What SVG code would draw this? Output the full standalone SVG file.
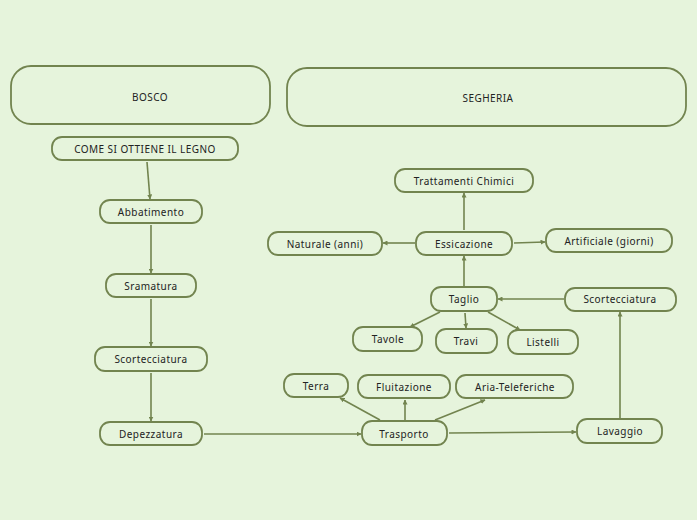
<svg xmlns="http://www.w3.org/2000/svg" width="697" height="520" viewBox="0 0 697 520">
<style>
.n rect{fill:none;stroke:#72844f;stroke-width:1.8}
.n text{font-family:"Noto Sans",sans-serif;font-size:10px;letter-spacing:0.45px;fill:#222;text-anchor:middle;dominant-baseline:central}
#conn line{stroke:#72844f;stroke-width:1.6;marker-end:url(#ah)}
</style>
<defs>
<marker id="ah" viewBox="0 0 10 10" refX="9" refY="5" markerWidth="5" markerHeight="5" orient="auto" markerUnits="userSpaceOnUse">
<path d="M0,0 L10,5 L0,10 z" fill="#72844f"/>
</marker>
</defs>
<rect width="697" height="520" fill="#e6f4dc"/>
<g id="conn">
<line x1="147" y1="162" x2="150" y2="199"/>
<line x1="151" y1="225" x2="151" y2="273"/>
<line x1="151" y1="299" x2="151" y2="346"/>
<line x1="151" y1="373" x2="151" y2="421"/>
<line x1="204" y1="434" x2="361" y2="434"/>
<line x1="449" y1="433" x2="576" y2="432"/>
<line x1="380" y1="420" x2="340" y2="398"/>
<line x1="405" y1="420" x2="405" y2="400"/>
<line x1="435" y1="420" x2="485" y2="400"/>
<line x1="620" y1="418" x2="620" y2="312"/>
<line x1="564" y1="299" x2="498" y2="299"/>
<line x1="440" y1="312" x2="410" y2="327"/>
<line x1="465" y1="313" x2="466" y2="328"/>
<line x1="488" y1="312" x2="520" y2="330"/>
<line x1="464" y1="286" x2="464" y2="256"/>
<line x1="464" y1="230" x2="464" y2="193"/>
<line x1="415" y1="243" x2="383" y2="243"/>
<line x1="514" y1="243" x2="545" y2="242"/>
</g>
<g id="bosco" class="n"><rect x="11" y="66" width="259" height="58" rx="20"/><text x="150" y="97">BOSCO</text></g>
<g id="segheria" class="n"><rect x="287" y="68" width="399" height="58" rx="20"/><text x="488" y="98">SEGHERIA</text></g>
<g id="come" class="n"><rect x="52" y="137" width="186" height="23" rx="10"/><text x="145" y="149">COME SI OTTIENE IL LEGNO</text></g>
<g id="abbatimento" class="n"><rect x="100" y="200" width="102" height="23" rx="10"/><text x="151" y="212">Abbatimento</text></g>
<g id="sramatura" class="n"><rect x="106" y="274" width="90" height="23" rx="10"/><text x="151" y="286">Sramatura</text></g>
<g id="scortecciatura1" class="n"><rect x="95" y="347" width="112" height="24" rx="10"/><text x="151" y="359">Scortecciatura</text></g>
<g id="depezzatura" class="n"><rect x="100" y="422" width="102" height="23" rx="10"/><text x="151" y="434">Depezzatura</text></g>
<g id="trasporto" class="n"><rect x="362" y="421" width="85" height="24" rx="10"/><text x="404" y="434">Trasporto</text></g>
<g id="lavaggio" class="n"><rect x="577" y="419" width="85" height="24" rx="10"/><text x="620" y="431">Lavaggio</text></g>
<g id="scortecciatura2" class="n"><rect x="565" y="288" width="111" height="23" rx="10"/><text x="620" y="299">Scortecciatura</text></g>
<g id="taglio" class="n"><rect x="431" y="287" width="66" height="24" rx="10"/><text x="464" y="299">Taglio</text></g>
<g id="tavole" class="n"><rect x="353" y="327" width="69" height="24" rx="10"/><text x="388" y="339">Tavole</text></g>
<g id="travi" class="n"><rect x="436" y="329" width="61" height="24" rx="10"/><text x="466" y="341">Travi</text></g>
<g id="listelli" class="n"><rect x="508" y="330" width="70" height="24" rx="10"/><text x="543" y="342">Listelli</text></g>
<g id="terra" class="n"><rect x="284" y="374" width="64" height="23" rx="10"/><text x="316" y="386">Terra</text></g>
<g id="fluitazione" class="n"><rect x="358" y="375" width="92" height="23" rx="10"/><text x="404" y="387">Fluitazione</text></g>
<g id="aria" class="n"><rect x="456" y="375" width="117" height="23" rx="10"/><text x="515" y="387">Aria-Teleferiche</text></g>
<g id="essicazione" class="n"><rect x="416" y="232" width="96" height="23" rx="10"/><text x="464" y="244">Essicazione</text></g>
<g id="naturale" class="n"><rect x="268" y="232" width="114" height="23" rx="10"/><text x="325" y="244">Naturale (anni)</text></g>
<g id="artificiale" class="n"><rect x="546" y="229" width="126" height="23" rx="10"/><text x="609" y="241">Artificiale (giorni)</text></g>
<g id="trattamenti" class="n"><rect x="395" y="169" width="138" height="23" rx="10"/><text x="464" y="181">Trattamenti Chimici</text></g>
</svg>
